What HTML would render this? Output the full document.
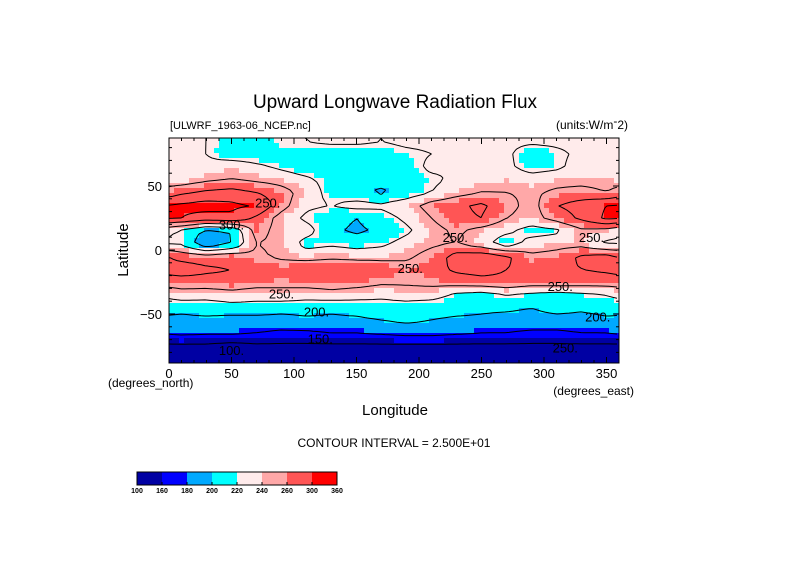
<!DOCTYPE html>
<html><head><meta charset="utf-8"><style>
html,body{margin:0;padding:0;background:#fff;}
svg text{font-family:"Liberation Sans",sans-serif;fill:#000;}
</style></head><body>
<svg id="chart" width="789" height="558" xmlns="http://www.w3.org/2000/svg">
<rect width="789" height="558" fill="#fff"/>
<text x="395" y="108" font-size="19" text-anchor="middle">Upward Longwave Radiation Flux</text>
<text x="170" y="129" font-size="11">[ULWRF_1963-06_NCEP.nc]</text>
<text x="628" y="129" font-size="12" text-anchor="end">(units:W/m<tspan dy="-4">-</tspan><tspan dy="4">2)</tspan></text>
<g id="field"></g>
<g id="contours"></g>
<g id="labels"></g>
<g id="axes"></g>
<text transform="translate(128,250) rotate(-90)" font-size="15" text-anchor="middle">Latitude</text>
<text x="108" y="387" font-size="12">(degrees_north)</text>
<text x="634" y="395" font-size="12" text-anchor="end">(degrees_east)</text>
<text x="395" y="415" font-size="15" text-anchor="middle">Longitude</text>
<text x="394" y="447" font-size="12" text-anchor="middle">CONTOUR INTERVAL = 2.500E+01</text>
<g id="cbar"></g>
</svg>
<script>
const levels=[100,160,180,200,220,240,260,300,360];
const colors=["#0000a3","#0000ff","#00a9ff","#00ffff","#ffebeb","#ffa8a8","#ff5555","#ff0000"];
const contourLevels=[125,150,175,200,225,250,275,300,325];
const lats=[85,75,65,55,45,35,25,15,5,-5,-15,-25,-35,-45,-55,-65,-75,-85];
const lons=[10,30,50,70,90,110,130,150,170,190,210,230,250,270,290,310,330,350];
const xTicks=[0,50,100,150,200,250,300,350];
const yTicks=[50,0,-50];
const field=[
[230,225,215,210,225,225,230,230,225,230,230,230,230,230,230,230,230,230],
[230,225,210,210,215,215,210,210,215,220,225,230,230,230,210,220,230,230],
[235,230,240,230,220,210,205,210,215,215,230,225,230,230,215,220,235,230],
[235,245,250,245,240,230,215,210,210,215,220,230,235,240,235,240,240,240],
[270,280,285,275,260,240,215,205,195,210,225,240,250,250,245,255,260,250],
[305,310,305,300,260,230,225,235,230,240,260,270,280,260,240,275,285,300],
[300,290,295,270,240,220,210,200,215,230,250,270,275,250,240,260,280,305],
[220,195,200,260,240,235,205,195,205,220,240,255,240,230,215,220,245,240],
[220,180,200,250,245,215,220,215,220,235,245,250,235,210,235,240,240,220],
[265,260,265,255,245,240,245,240,240,245,260,285,290,280,255,260,280,285],
[290,280,275,270,265,270,270,275,270,260,265,280,285,275,270,270,275,280],
[262,265,268,262,258,262,265,262,255,255,258,262,266,270,262,265,262,262],
[240,235,240,235,240,235,240,235,230,235,235,220,215,225,220,215,220,225],
[205,210,215,215,210,210,205,210,215,215,210,210,205,205,200,210,205,210],
[195,195,190,190,190,195,195,195,200,205,200,195,195,190,190,190,190,195],
[180,178,178,175,170,170,175,175,178,182,182,178,175,175,170,170,175,175],
[145,145,140,145,145,145,145,145,145,145,145,145,145,145,145,145,145,145],
[130,130,130,130,130,130,130,130,130,130,130,130,130,130,130,130,130,130]];
const contourLabels=["250","300","250","200","150","100","250","250","250","250","200","250"];
const contourLon=[79,50,90,118,121,50,229,193,313,338,343,317];
const contourLat=[37,20,-34,-48,-69,-78,10,-14,-28,10,-52,-76];

const NS="http://www.w3.org/2000/svg";
const X0=169,X1=619,Y0=138,Y1=363;
const xs=l=>X0+l/360*(X1-X0);
const ys=la=>250-la*1.28;
function col(v){for(let i=0;i<colors.length;i++){if(v<levels[i+1])return colors[i];}return colors[colors.length-1];}
function mk(tag,attrs,parent){const e=document.createElementNS(NS,tag);for(const k in attrs)e.setAttribute(k,attrs[k]);parent.appendChild(e);return e;}
function sample(lon,lat){
  let fr=(lats[0]-lat)/10; fr=Math.max(0,Math.min(lats.length-1,fr));
  const r0=Math.floor(fr),r1=Math.min(lats.length-1,r0+1),tr=fr-r0;
  let fc=(lon-lons[0])/20; const n=lons.length;
  const c0f=Math.floor(fc),tc=fc-c0f;
  const c0=((c0f%n)+n)%n,c1=(c0+1)%n;
  const a=field[r0][c0]*(1-tc)+field[r0][c1]*tc;
  const b=field[r1][c0]*(1-tc)+field[r1][c1]*tc;
  return a*(1-tr)+b*tr;
}
const px2lon=x=>(x-X0)/(X1-X0)*360;
const px2lat=y=>(250-y)/1.28;
const fg=document.getElementById('field');
const step=5;
for(let y=Y0;y<Y1;y+=step){for(let x=X0;x<X1;x+=step){
  const e=mk('rect',{x:x,y:y,width:Math.min(step,X1-x)+0.3,height:Math.min(step,Y1-y)+0.3,fill:col(sample(px2lon(x+step/2),px2lat(y+step/2)))},fg);
  
  
}}
// contour lines (marching squares)
const cg=document.getElementById('contours');
const gs=4;const gx=[],gy=[];
for(let x=X0;x<=X1;x+=gs)gx.push(x);
for(let y=Y0;y<=Y1;y+=gs)gy.push(y);
const V=gy.map(y=>gx.map(x=>sample(px2lon(x),px2lat(y))));
contourLevels.forEach(L=>{
  let d='';
  for(let j=0;j<gy.length-1;j++)for(let i=0;i<gx.length-1;i++){
    const a=V[j][i],b=V[j][i+1],c=V[j+1][i+1],e=V[j+1][i];
    const pts=[];
    const ed=(v1,v2,x1,y1,x2,y2)=>{if((v1<L)!==(v2<L)){const t=(L-v1)/(v2-v1);pts.push([x1+(x2-x1)*t,y1+(y2-y1)*t]);}};
    ed(a,b,gx[i],gy[j],gx[i+1],gy[j]);
    ed(b,c,gx[i+1],gy[j],gx[i+1],gy[j+1]);
    ed(c,e,gx[i+1],gy[j+1],gx[i],gy[j+1]);
    ed(e,a,gx[i],gy[j+1],gx[i],gy[j]);
    for(let k=0;k+1<pts.length;k+=2)d+=`M${pts[k][0].toFixed(1)},${pts[k][1].toFixed(1)}L${pts[k+1][0].toFixed(1)},${pts[k+1][1].toFixed(1)}`;
  }
  if(d){const p=mk('path',{d:d,fill:'none',stroke:'#000','stroke-width':1},cg);
    
    }
});
const lg=document.getElementById('labels');
for(let i=0;i<contourLabels.length;i++){
  const t=mk('text',{x:xs(contourLon[i]),y:ys(contourLat[i])+5,'font-size':13,'text-anchor':'middle'},lg);
  t.textContent=contourLabels[i]+'.';
  
  
}
const ag=document.getElementById('axes');
const fr=mk('rect',{x:X0,y:Y0,width:X1-X0,height:Y1-Y0,fill:'none',stroke:'#000','stroke-width':1},ag);


for(let l=0;l<=360;l+=10){const x=xs(l);const len=(l%50===0)?6:3;
  mk('line',{x1:x,y1:Y1,x2:x,y2:Y1-len,stroke:'#000'},ag);
  mk('line',{x1:x,y1:Y0,x2:x,y2:Y0+len,stroke:'#000'},ag);}
for(let la=-80;la<=80;la+=10){const y=ys(la);const len=(la%50===0)?6:3;
  mk('line',{x1:X0,y1:y,x2:X0+len,y2:y,stroke:'#000'},ag);
  mk('line',{x1:X1,y1:y,x2:X1-len,y2:y,stroke:'#000'},ag);}
xTicks.forEach(v=>{const t=mk('text',{x:xs(v),y:378,'font-size':13,'text-anchor':'middle'},ag);t.textContent=v;
  
  });
yTicks.forEach(v=>{const t=mk('text',{x:162,y:ys(v)+5,'font-size':13,'text-anchor':'end'},ag);t.textContent=(v<0?'\u2212':'')+Math.abs(v);
  
  });
const cb=document.getElementById('cbar');
const bw=25,bx=137,by=472,bh=13;
colors.forEach((c,i)=>{const r=mk('rect',{x:bx+i*bw,y:by,width:bw,height:bh,fill:c},cb);
  
  });
mk('rect',{x:bx,y:by,width:bw*8,height:bh,fill:'none',stroke:'#000'},cb);
levels.forEach((v,i)=>{mk('line',{x1:bx+i*bw,y1:by+bh-3,x2:bx+i*bw,y2:by+bh,stroke:'#000'},cb);
  const t=mk('text',{x:bx+i*bw,y:493,'font-size':7,'font-weight':'bold','text-anchor':'middle'},cb);t.textContent=v;
  
  });
</script>
</body></html>
